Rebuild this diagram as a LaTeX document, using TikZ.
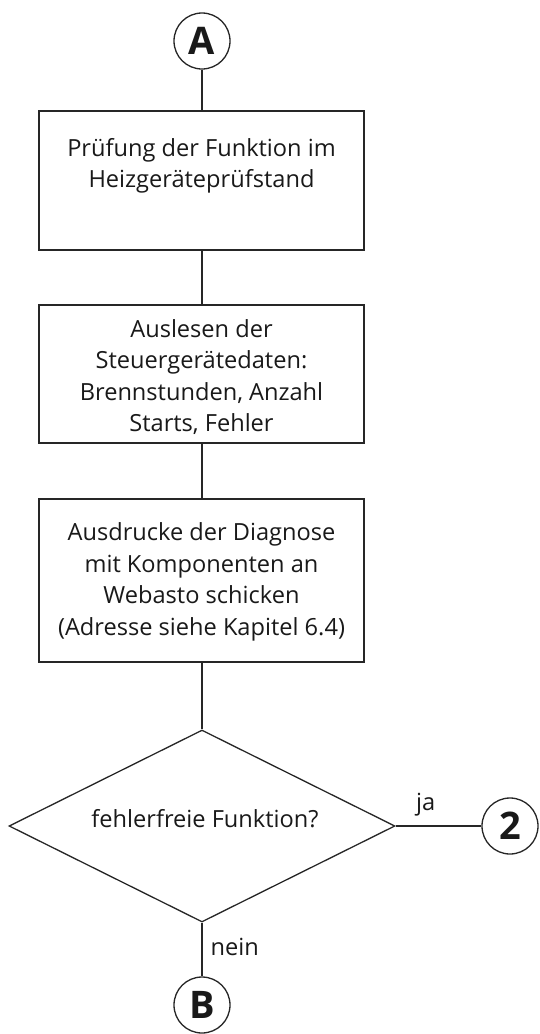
\documentclass[tikz,border=0pt]{standalone}
\usepackage{fontspec}
\setmainfont{Open Sans}
\usetikzlibrary{shapes.geometric}
\begin{document}
\begin{tikzpicture}[x=1pt,y=-1pt,
  line width=1.3pt,
  conn/.style={draw=black!85},
  stepbox/.style={draw=black!85, rectangle, minimum width=325pt, inner sep=0pt},
  txt/.style={align=center, font=\fontsize{23.6}{31.5}\selectfont, inner sep=0pt, text=black!90},
  conn2/.style={draw=black!85, circle, minimum size=56pt, inner sep=0pt, font=\fontsize{38}{38}\selectfont\bfseries, text=black!90},
  decision/.style={draw=black!85, diamond, minimum width=386pt, minimum height=192pt, inner sep=0pt}]
\useasboundingbox (0,0) rectangle (539,1034);
\node[conn2] (A) at (202,41) {A};
\node[stepbox, minimum height=139pt] (b1) at (201.5,180.5) {};
\node[txt] (t1) at (201.5,166) {Prüfung der Funktion im\\Heizgeräteprüfstand};
\node[stepbox, minimum height=138pt] (b2) at (201.5,374) {};
\node[txt] (t2) at (201.5,377) {Auslesen der\\Steuergerätedaten:\\Brennstunden, Anzahl\\Starts, Fehler};
\node[stepbox, minimum height=163pt] (b3) at (201.5,580.5) {};
\node[txt] (t3) at (201.5,582) {Ausdrucke der Diagnose\\mit Komponenten an\\Webasto schicken\\(Adresse siehe Kapitel 6.4)};
\node[decision] (d) at (202,826) {};
\node[txt] (td) at (205,819) {fehlerfreie Funktion?};
\node[conn2] (two) at (510,826) {2};
\node[conn2] (B) at (202,1005) {B};
\draw[conn] (A) -- (b1.north -| A);
\draw[conn] (b1.south -| A) -- (b2.north -| A);
\draw[conn] (b2.south -| A) -- (b3.north -| A);
\draw[conn] (b3.south -| A) -- (d.north);
\draw[conn] (d.east) -- (two) node[txt, pos=0.35, above=9pt] (ja) {ja};
\draw[conn] (d.south) -- (B) node[txt, pos=0.45, right=8pt] (nein) {nein};
\end{tikzpicture}
\end{document}
